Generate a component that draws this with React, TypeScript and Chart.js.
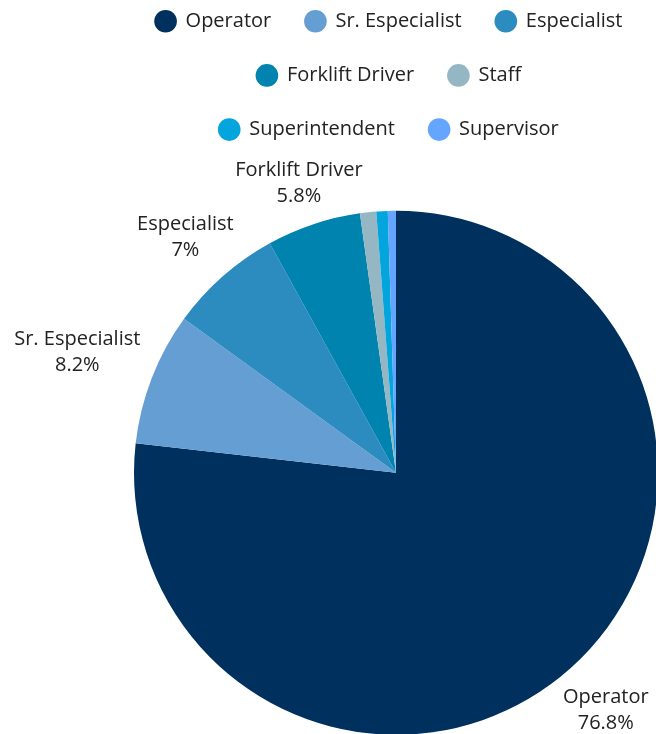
import React, { useEffect, useRef } from 'react';
import { Chart, registerables } from 'chart.js';

Chart.register(...registerables);

const categories = ['Operator', 'Sr. Especialist', 'Especialist', 'Forklift Driver', 'Staff', 'Superintendent', 'Supervisor'];
const shares = [76.8, 8.2, 7, 5.8, 1.0, 0.7, 0.5];
const colors = ['#00305e', '#659ed3', '#2c8cbf', '#0083ae', '#95b7c4', '#03a5dc', '#64a5ff'];
const labelThreshold = 3;

const FONT = "'Open Sans', 'Noto Sans', sans-serif";
const TEXT_COLOR = '#222222';

const outerLabels = {
  id: 'outerLabels',
  afterDatasetsDraw(chart: any) {
    const ctx = chart.ctx;
    const meta = chart.getDatasetMeta(0);
    const data = chart.data.datasets[0].data as number[];
    const fontSize = 20;
    const lineH = 26;
    const offset = 18;
    const baselineShift = 3;
    ctx.save();
    ctx.font = `${fontSize}px ${FONT}`;
    ctx.fillStyle = TEXT_COLOR;
    ctx.textAlign = 'center';
    ctx.textBaseline = 'middle';
    meta.data.forEach((arc: any, i: number) => {
      const v = data[i];
      if (v < labelThreshold) return;
      const { x, y, startAngle, endAngle, outerRadius } = arc.getProps(['x', 'y', 'startAngle', 'endAngle', 'outerRadius'], true);
      const mid = (startAngle + endAngle) / 2;
      const vx = Math.cos(mid);
      const vy = Math.sin(mid);
      const lines = [String(chart.data.labels[i]), `${v}%`];
      const w = Math.max(...lines.map((l) => ctx.measureText(l).width));
      const d = outerRadius + offset + Math.abs(vx) * w / 2 + Math.abs(vy) * lineH / 3;
      const cx = x + vx * d;
      const cy = y + vy * d + baselineShift;
      lines.forEach((l, k) => ctx.fillText(l, cx, cy + (k - (lines.length - 1) / 2) * lineH));
    });
    ctx.restore();
  },
};

export default function App() {
  const ref = useRef<HTMLCanvasElement>(null);
  useEffect(() => {
    if (!ref.current) return;
    const chart = new Chart(ref.current, {
      type: 'pie',
      data: {
        labels: categories,
        datasets: [
          {
            data: shares,
            backgroundColor: colors,
            borderWidth: 0,
            hoverOffset: 0,
          },
        ],
      },
      options: {
        responsive: false,
        animation: false,
        layout: { padding: { left: 120, right: 0, top: 0, bottom: 0 } },
        plugins: {
          legend: {
            position: 'top',
            labels: {
              usePointStyle: true,
              pointStyle: 'circle',
              boxWidth: 20,
              boxHeight: 16,
              padding: 34.2,
              color: TEXT_COLOR,
              font: { family: FONT, size: 20 },
            },
          },
          title: {
            display: true,
            position: 'left',
            text: ' ',
            padding: 0,
            font: { size: 14, lineHeight: 1 },
          },
          tooltip: { enabled: false },
        },
      },
      plugins: [outerLabels],
    } as any);
    return () => chart.destroy();
  }, []);
  return (
    <div style={{ position: 'fixed', left: 0, top: 0, right: 0, bottom: 0, overflow: 'hidden', background: '#fff' }}>
      <div style={{ position: 'absolute', left: 0, top: -23, width: 658, height: 819 }}>
        <canvas ref={ref} width={658} height={819} style={{ width: 658, height: 819, display: 'block' }} />
      </div>
    </div>
  );
}
